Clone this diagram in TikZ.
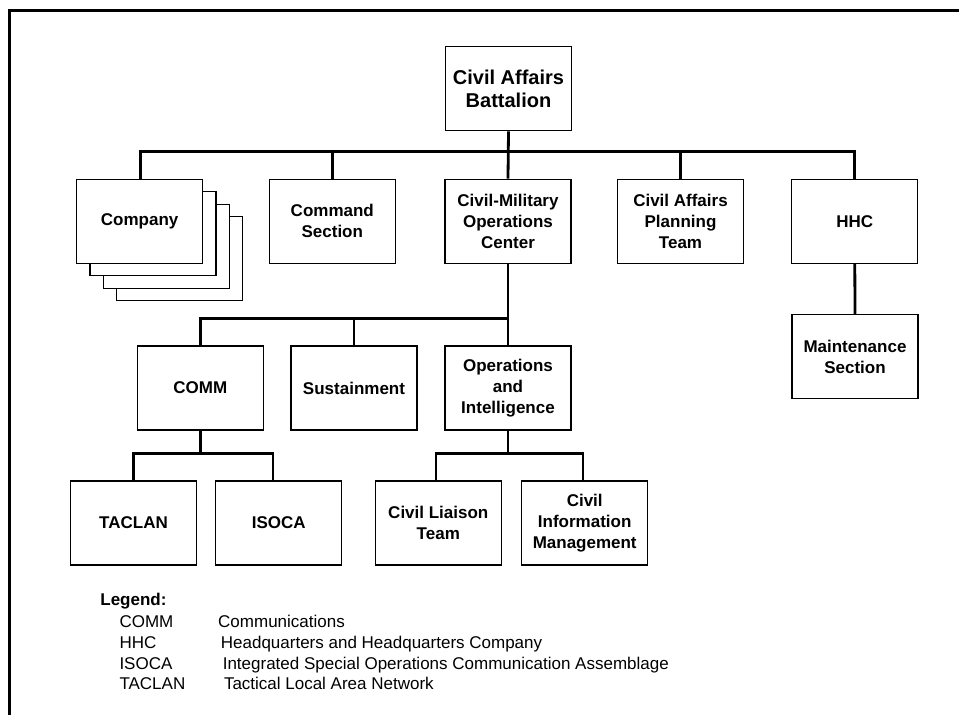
\documentclass[tikz,border=0pt]{standalone}
\usepackage{fontspec}
\setmainfont{Liberation Sans}
\begin{document}
\begin{tikzpicture}[x=1pt,y=-1pt,
  box/.style={draw, line width=1.3pt, fill=white, minimum width=126pt, minimum height=84pt,
    inner sep=0pt, align=center, font=\bfseries\fontsize{17}{20.8}\selectfont},
  conn/.style={line width=2.8pt},
  leg/.style={anchor=base west, inner sep=0pt, font=\fontsize{17}{20}\selectfont}]
\useasboundingbox (0,0) rectangle (959,715);
\draw[line width=3pt] (9,716) -- (9,10) -- (960,10);

% top
\node[box, font=\bfseries\fontsize{20}{23}\selectfont] (cab) at (508.5,88.7) {Civil Affairs\\Battalion};

% row 1
\node[box] (comp3) at (179.6,258.8) {};
\node[box] (comp2) at (166.3,246.3) {};
\node[box] (comp1) at (153.0,233.8) {};
\node[box] (company) at (139.7,221.3) {Company};
\node[box] (cmd) at (332.3,221.3) {Command\\Section};
\node[box] (cmoc) at (508,221.3) {Civil-Military\\Operations\\Center};
\node[box] (capt) at (680.5,221.3) {Civil Affairs\\Planning\\Team};
\node[box] (hhc) at (854.8,221.3) {HHC};
\node[box] (maint) at (855,356.7) {Maintenance\\Section};

% row 2
\node[box] (comm) at (200.3,388) {COMM};
\node[box] (sus) at (354,388) {Sustainment};
\node[box] (ops) at (508,388) {Operations\\and\\Intelligence};

% row 3
\node[box] (taclan) at (133.5,523) {TACLAN};
\node[box] (isoca) at (278.8,523) {ISOCA};
\node[box] (clt) at (438.3,523) {Civil Liaison\\Team};
\node[box] (cim) at (584.7,523) {Civil\\Information\\Management};

% connectors
\coordinate (bus1) at (0,151.5);
\coordinate (bus2) at (0,318.3);
\coordinate (bus3) at (0,453.8);
\draw[conn] (cab.south) -- (cmoc.north);
\draw[conn] ([xshift=1pt]company.north) -- ([xshift=1pt]company.north |- bus1) -- (hhc.north |- bus1) -- (hhc.north);
\draw[conn] (cmd.north) -- (cmd.north |- bus1);
\draw[conn] (capt.north) -- (capt.north |- bus1);
\draw[conn] (hhc.south) -- (maint.north);
\draw[conn] (cmoc.south) -- (ops.north);
\draw[conn] (comm.north) -- (comm.north |- bus2) -- (ops.north |- bus2);
\draw[conn] (sus.north) -- (sus.north |- bus2);
\draw[conn] (comm.south) -- (comm.south |- bus3);
\draw[conn] (taclan.north) -- (taclan.north |- bus3) -- ([xshift=-5.8pt]isoca.north |- bus3) -- ([xshift=-5.8pt]isoca.north);
\draw[conn] (ops.south) -- (ops.south |- bus3);
\draw[conn] ([xshift=-2.3pt]clt.north) -- ([xshift=-2.3pt]clt.north |- bus3) -- ([xshift=-1.7pt]cim.north |- bus3) -- ([xshift=-1.7pt]cim.north);

% legend
\node[leg, font=\bfseries\fontsize{17}{20}\selectfont] (legend) at (100.2,605.4) {Legend:};
\node[leg] (l1a) at (119.3,627.8) {COMM};
\node[leg] (l1b) at (218,627.8) {Communications};
\node[leg] (l2a) at (119.3,648.8) {HHC};
\node[leg] (l2b) at (220.7,648.8) {Headquarters and Headquarters Company};
\node[leg] (l3a) at (119.3,669.4) {ISOCA};
\node[leg] (l3b) at (222.6,669.4) {Integrated Special Operations Communication Assemblage};
\node[leg] (l4a) at (119.3,689.4) {TACLAN};
\node[leg] (l4b) at (223.8,689.4) {Tactical Local Area Network};
\end{tikzpicture}
\end{document}
